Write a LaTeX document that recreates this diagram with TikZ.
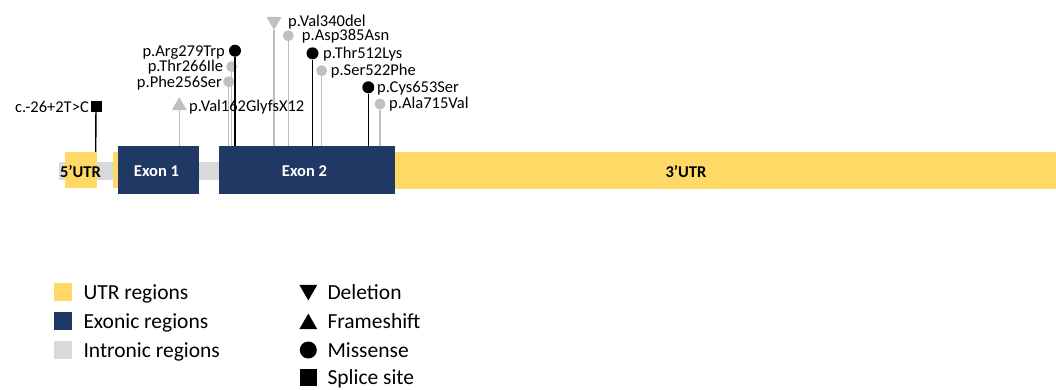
\documentclass[tikz,border=0pt]{standalone}
\usepackage{fontspec}
\setmainfont{Carlito}
\usetikzlibrary{shapes.geometric}
\definecolor{utrcol}{HTML}{FFD966}
\definecolor{exoncol}{HTML}{203864}
\definecolor{introncol}{HTML}{D9D9D9}
\definecolor{mutgrey}{HTML}{BFBFBF}
\begin{document}
\begin{tikzpicture}[x=1pt,y=-1pt,
  lab/.style={inner sep=0pt, font=\fontsize{16.5}{19}\selectfont},
  boldlab/.style={inner sep=0pt, font=\fontsize{16.5}{19}\selectfont\bfseries},
  leglab/.style={inner sep=0pt, anchor=base west, font=\fontsize{21.5}{25}\selectfont},
  regionbox/.style={rectangle, inner sep=0pt, draw=none},
  exonbox/.style={regionbox, fill=exoncol, text=white, font=\fontsize{16.5}{19}\selectfont\bfseries},
  blackdot/.style={circle, fill=black, inner sep=0pt, minimum size=12pt},
  greydot/.style={circle, fill=mutgrey, inner sep=0pt, minimum size=11pt},
  stemblack/.style={draw=black, line width=1.4pt},
  stemgrey/.style={draw=mutgrey, line width=1.3pt},
  tri/.style={regular polygon, regular polygon sides=3, inner sep=0pt, minimum size=17.3pt},
  legtri/.style={regular polygon, regular polygon sides=3, inner sep=0pt, minimum size=20.8pt, fill=black},
  legsq/.style={rectangle, inner sep=0pt, minimum size=18pt}
]
\useasboundingbox (0,0) rectangle (1056,389);

% ---- track ----
\fill[introncol] (59,162) rectangle (219,180);
\node[regionbox, fill=utrcol, minimum width=32pt, minimum height=36pt] (u5) at (81,170) {};
\node[regionbox, fill=utrcol, minimum width=5pt, minimum height=36pt] (u5b) at (115.5,170) {};
\node[regionbox, fill=utrcol, minimum width=661pt, minimum height=37pt] (u3) at (725.5,170.5) {};
\node[exonbox, minimum width=81pt, minimum height=48pt] (ex1) at (158.5,170) {};
\node[exonbox, minimum width=176pt, minimum height=48pt] (ex2) at (307,170) {};
\node[boldlab, text=white] (ex1lab) at (156.5,171.5) {Exon 1};
\node[boldlab, text=white] (ex2lab) at (304.5,171.5) {Exon 2};
\node[boldlab] (u5lab) at (80.5,171.5) {5’UTR};
\node[boldlab] (u3lab) at (686,171.5) {3’UTR};

% ---- stem bases ----
\coordinate (bsp) at (95.7,152);
\coordinate (bfs) at (179.3,146);
\coordinate (b256) at (228.7,146);
\coordinate (b266) at (231.7,146);
\coordinate (b279) at (235,146);
\coordinate (b340) at (274,146);
\coordinate (b385) at (288.3,146);
\coordinate (b512) at (312.5,146);
\coordinate (b522) at (321.7,146);
\coordinate (b653) at (368.3,146);
\coordinate (b715) at (380,146);

% ---- heads ----
\node[rectangle, fill=black, inner sep=0pt, minimum size=11pt] (sp) at (96,106.5) {};
\node[tri, fill=mutgrey] (fs) at (179.3,105.7) {};
\node[greydot] (m256) at (228.7,81.7) {};
\node[greydot] (m266) at (231.7,66.7) {};
\node[blackdot] (m279) at (235,50.7) {};
\node[tri, fill=mutgrey, shape border rotate=180] (del) at (274,21.3) {};
\node[greydot] (m385) at (288.3,35.7) {};
\node[blackdot] (m512) at (312.5,53.3) {};
\node[greydot] (m522) at (321.7,70.7) {};
\node[blackdot] (m653) at (368.3,87.3) {};
\node[greydot] (m715) at (380,104) {};

% ---- stems ----
\draw[stemblack] (sp) -- (bsp);
\draw[stemgrey] (fs) -- (bfs);
\draw[stemgrey] (m256) -- (b256);
\draw[stemgrey] (m266) -- (b266);
\draw[stemblack] (m279) -- (b279);
\draw[stemgrey] (del) -- (b340);
\draw[stemgrey] (m385) -- (b385);
\draw[stemblack] (m512) -- (b512);
\draw[stemgrey] (m522) -- (b522);
\draw[stemblack] (m653) -- (b653);
\draw[stemgrey] (m715) -- (b715);

% ---- labels ----
\node[lab, anchor=base east] (lsp) at (89,112.3) {c.-26+2T>C};
\node[lab, anchor=base west] (lfs) at (189,111.7) {p.Val162GlyfsX12};
\node[lab, anchor=base east] (l279) at (225,56) {p.Arg279Trp};
\node[lab, anchor=base east] (l266) at (223.3,71.7) {p.Thr266Ile};
\node[lab, anchor=base east] (l256) at (222,87.3) {p.Phe256Ser};
\node[lab, anchor=base west] (l340) at (288,26) {p.Val340del};
\node[lab, anchor=base west] (l385) at (301.7,40.7) {p.Asp385Asn};
\node[lab, anchor=base west] (l512) at (323,58.3) {p.Thr512Lys};
\node[lab, anchor=base west] (l522) at (330.7,75.5) {p.Ser522Phe};
\node[lab, anchor=base west] (l653) at (377,92) {p.Cys653Ser};
\node[lab, anchor=base west] (l715) at (389,108.5) {p.Ala715Val};

% ---- legend ----
\node[legsq, fill=utrcol] (kutr) at (63,292) {};
\node[legsq, fill=exoncol] (kexon) at (63,321) {};
\node[legsq, fill=introncol] (kintron) at (63,350) {};
\node[leglab] (tutr) at (83.3,299.3) {UTR regions};
\node[leglab] (texon) at (83.3,328.3) {Exonic regions};
\node[leglab] (tintron) at (83.3,357.3) {Intronic regions};

\node[legtri, shape border rotate=180] (kdel) at (308.3,290) {};
\node[legtri] (kfs) at (308.3,324) {};
\node[circle, fill=black, inner sep=0pt, minimum size=17pt] (kmis) at (308.3,350) {};
\node[rectangle, fill=black, inner sep=0pt, minimum size=17pt] (ksp) at (308.5,377.5) {};
\node[leglab] (tdel) at (327.3,299.3) {Deletion};
\node[leglab] (tfs) at (327.3,328.3) {Frameshift};
\node[leglab] (tmis) at (327.3,357.3) {Missense};
\node[leglab] (tsp) at (327.3,384) {Splice site};
\end{tikzpicture}
\end{document}
